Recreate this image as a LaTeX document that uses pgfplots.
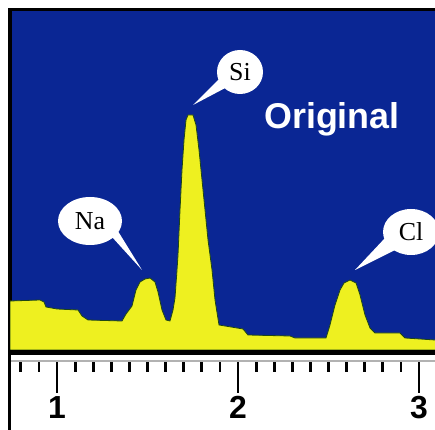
\documentclass[border=0pt]{standalone}
\usepackage{pgfplots}
\pgfplotsset{compat=1.18}
\usepackage{fontspec}
\setmainfont{Liberation Serif}
\newfontfamily\sansf{Liberation Sans}
\definecolor{bgblue}{RGB}{10,38,148}
\definecolor{specyellow}{RGB}{238,240,32}
\definecolor{edgegreen}{RGB}{30,70,20}
\begin{document}
\begin{tikzpicture}
\path[use as bounding box] (0,0) rectangle (435bp,430bp);
\clip (0,0) rectangle (435bp,430bp);
\fill[white] (0,0) rectangle (435bp,430bp);
% ruler axis
\begin{axis}[at={(10bp,69bp)}, anchor=south west, scale only axis,
  width=435bp, height=4bp, xmin=0.7403, xmax=3.1436, ymin=0, ymax=1,
  axis x line=bottom, hide y axis,
  axis line style={-, draw=gray!60, line width=1.5bp},
  tick align=outside, xtick={1,2,3},
  minor xtick={0.8,0.9,1.1,1.2,1.3,1.4,1.5,1.6,1.7,1.8,1.9,2.1,2.2,2.3,2.4,2.5,2.6,2.7,2.8,2.9,3.1},
  major tick length=32bp, minor tick length=11bp,
  tick style={black, line width=2.8bp},
  xticklabel style={font=\sansf\bfseries\fontsize{32}{32}\selectfont},
  /pgf/number format/assume math mode=true]
\addplot[draw=none] coordinates {(1,0.5)};
\end{axis}
% spectrum axis
\begin{axis}[at={(10bp,80bp)}, anchor=south west, scale only axis,
  width=435bp, height=340bp, xmin=0.7403, xmax=3.1436, ymin=0, ymax=340,
  xtick=\empty, ytick=\empty,
  axis background/.style={fill=bgblue},
  axis line style={black, line width=3bp}]
\addplot[fill=specyellow, draw=edgegreen, line width=0.8bp] coordinates {
(0.7403,49) (0.9061,50) (0.9282,48) (0.9392,43) (1.0,41) (1.1160,40)
(1.1381,34) (1.1713,30) (1.3591,29) (1.3812,36) (1.4144,44) (1.4365,60)
(1.4586,68) (1.4862,71) (1.5138,72) (1.5414,68) (1.5580,58) (1.5801,40)
(1.6022,30) (1.6243,29) (1.6409,40) (1.6519,52) (1.6630,80) (1.6685,95)
(1.6796,140) (1.6906,180) (1.7017,210) (1.7127,230) (1.7238,235) (1.7514,235)
(1.7680,225) (1.7845,200) (1.8066,160) (1.8343,110) (1.8564,80) (1.8729,50)
(1.8950,25) (2.0276,21) (2.0552,15) (2.2873,14) (2.3149,12) (2.4862,12)
(2.5083,25) (2.5359,45) (2.5635,60) (2.5856,67) (2.6188,70) (2.6519,67)
(2.6740,55) (2.7017,35) (2.7293,22) (2.7569,17) (2.8950,17) (2.9227,12)
(3.0884,10) (3.1436,9)
} \closedcycle;
% Na bubble
\fill[white] (axis cs:1.2939,115) -- (axis cs:1.4696,80) -- (axis cs:1.3260,122) -- cycle;
\fill[white] (axis cs:1.1823,129) ellipse [x radius=32bp, y radius=24bp];
\node at (axis cs:1.1823,129) {\fontsize{26}{26}\selectfont Na};
% Si bubble
\fill[white] (axis cs:1.9006,272) -- (axis cs:1.7514,245) -- (axis cs:1.9503,264) -- cycle;
\fill[white] (axis cs:2.0110,278) ellipse [x radius=23bp, y radius=22bp];
\node at (axis cs:2.0110,278) {\fontsize{26}{26}\selectfont Si};
% Cl bubble
\fill[white] (axis cs:2.8122,112) -- (axis cs:2.6464,80) -- (axis cs:2.8785,101) -- cycle;
\fill[white] (axis cs:2.9558,118) ellipse [x radius=28bp, y radius=23bp];
\node at (axis cs:2.9558,118) {\fontsize{26}{26}\selectfont Cl};
\node[anchor=base, text=white] at (axis cs:2.5193,221) {\sansf\bfseries\fontsize{36}{36}\selectfont Original};
\end{axis}
\draw[black, line width=4bp] (8bp,77bp) -- (440bp,77bp);
\draw[black, line width=3bp] (9.5bp,0) -- (9.5bp,80bp);
\end{tikzpicture}
\end{document}
